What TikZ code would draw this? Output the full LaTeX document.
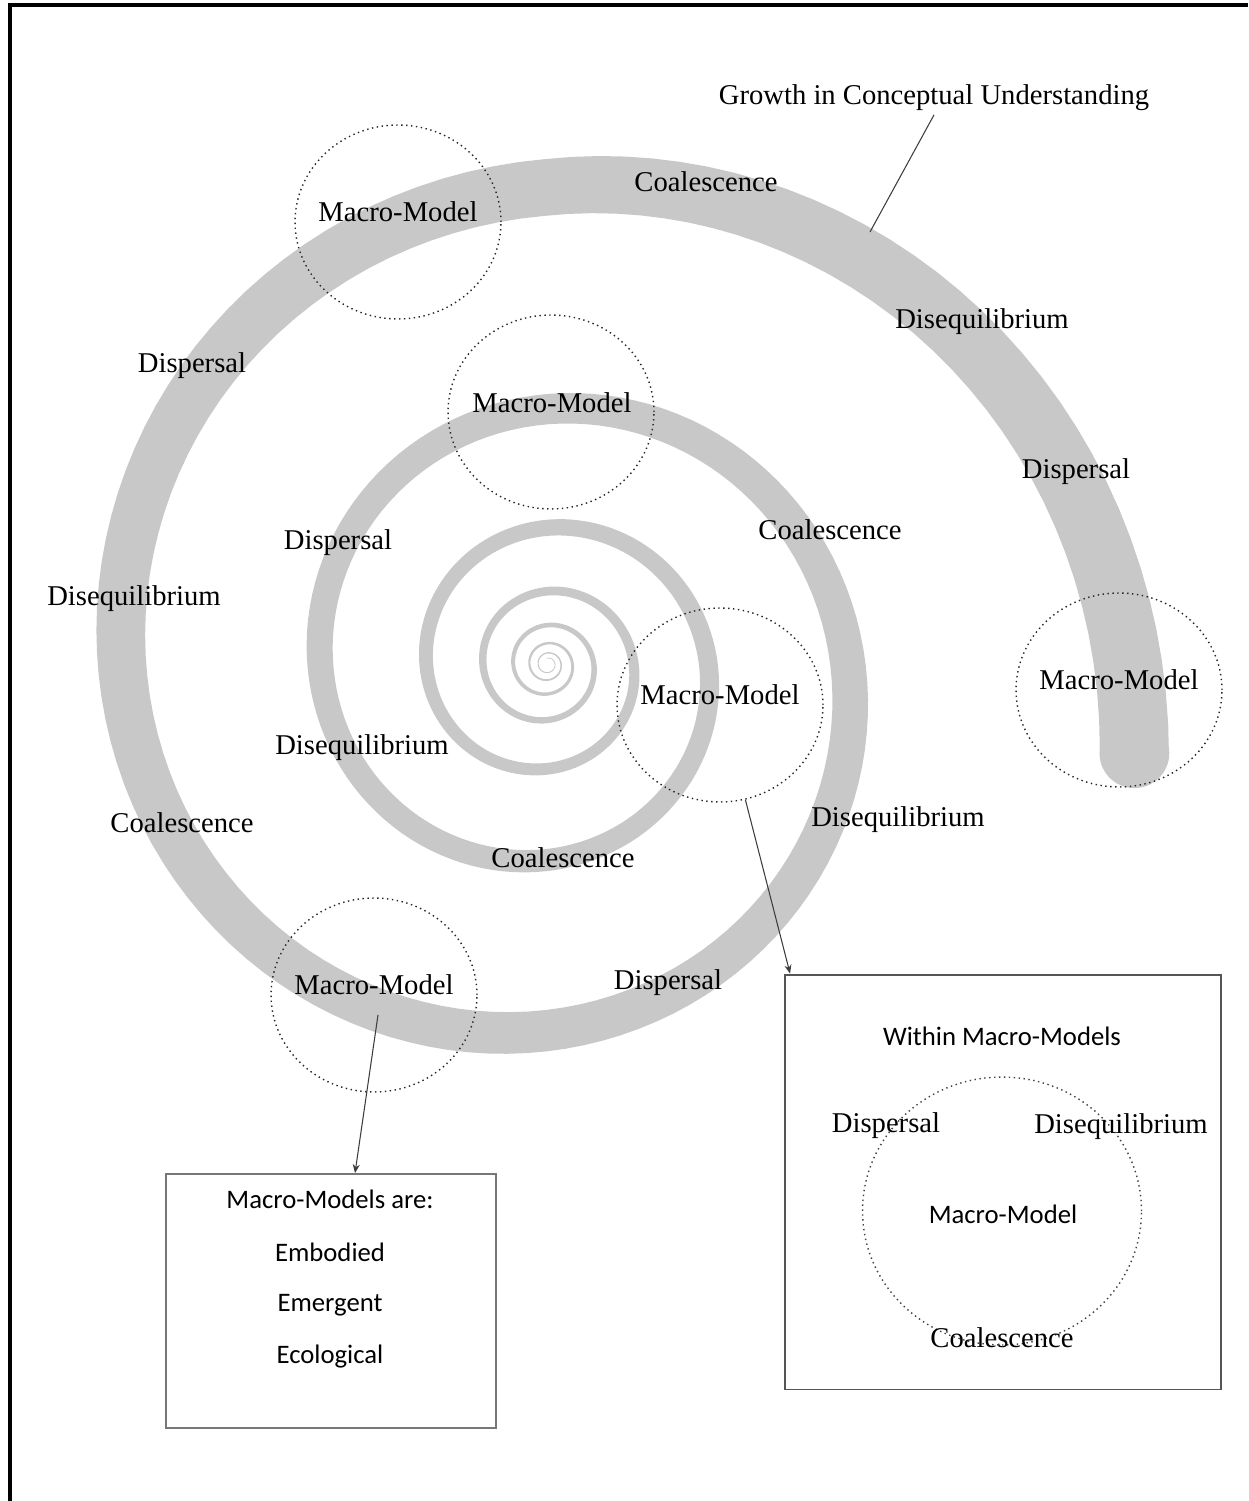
\documentclass[tikz,border=0pt]{standalone}
\usepackage{fontspec}
\setmainfont{Liberation Serif}
\newfontfamily\calibfont{Carlito}
\usetikzlibrary{shapes.geometric, arrows.meta, positioning, calc}
\definecolor{SpiralGray}{RGB}{200,200,200}
\definecolor{BoxGray}{RGB}{85,85,85}
\definecolor{LinkGray}{RGB}{60,60,60}

\begin{document}
\begin{tikzpicture}[
    x=0.02cm, y=-0.02cm,
    declare function={
      sprad(\t)=489*exp(-0.0017406*(\t-90))*(1+0.035*max(0,(90-\t)/90));
      sprx(\t,\k)=548-0.0164*sprad(\t)+\k*sprad(\t)*cos(\t);
      spry(\t,\k)=664+0.0266*sprad(\t)-\k*sprad(\t)*sin(\t);
    },
    spl/.style={font=\fontsize{16.3}{19}\selectfont, inner sep=2pt},
    cal/.style={font=\calibfont\fontsize{15.2}{18}\selectfont, inner sep=2pt},
    mmodel/.style={ellipse, draw=black!85, dotted, line width=0.8pt, minimum width=4.12cm, minimum height=3.88cm},
    bigmodel/.style={ellipse, draw=black!75, dotted, line width=0.8pt, minimum width=5.58cm, minimum height=5.36cm},
    box/.style={rectangle, draw=BoxGray, line width=1.1pt},
    spiral/.style={fill=SpiralGray},
    link/.style={-{Stealth[length=5pt, width=4pt]}, draw=LinkGray, line width=0.6pt}
  ]
    \useasboundingbox (0,0) rectangle (1248,1501);
    \draw[line width=1.8pt] (10,1501) -- (10,5) -- (1248,5);

    % Spiral band
    \fill[spiral] plot[domain=-7:2620, samples=900] ({sprx(\x,1.058)}, {spry(\x,1.058)})
      -- plot[domain=2620:-7, samples=900] ({sprx(\x,0.942)}, {spry(\x,0.942)}) -- cycle;
    \fill[spiral] ({sprx(-7,1)}, {spry(-7,1)}) circle[radius=34.9];

    % Macro-Model circles on the spiral
    \node[mmodel] (c1) at (398,222) {};
    \node[mmodel] (c2) at (551,412) {};
    \node[mmodel] (c3) at (720,705) {};
    \node[mmodel] (c4) at (1119,690) {};
    \node[mmodel] (c5) at (374,995) {};
    \node[spl] at (398,212) {Macro-Model};
    \node[spl] at (552,403) {Macro-Model};
    \node[spl] at (720,695) {Macro-Model};
    \node[spl] at (1119,680) {Macro-Model};
    \node[spl] at (374,985) {Macro-Model};

    % Phase labels
    \node[spl] (growth) at (934,98) {Growth in Conceptual Understanding};
    \node[spl] at (706,182) {Coalescence};
    \node[spl] at (982,322) {Disequilibrium};
    \node[spl] at (192,366) {Dispersal};
    \node[spl] at (1076,472) {Dispersal};
    \node[spl] at (830,530) {Coalescence};
    \node[spl] at (338,543) {Dispersal};
    \node[spl] at (134,599) {Disequilibrium};
    \node[spl] at (362,748) {Disequilibrium};
    \node[spl] at (182,823) {Coalescence};
    \node[spl] at (898,820) {Disequilibrium};
    \node[spl] at (563,858) {Coalescence};
    \node[spl] at (668,983) {Dispersal};

    % Boxes
    \node[box, minimum width=8.72cm, minimum height=8.3cm] (rbox) at (1003,1182) {};
    \node[cal] at (1002,1036) {Within Macro-Models};
    \node[bigmodel] (cin) at (1002,1211) {};
    \node[cal] at (1003,1214) {Macro-Model};
    \node[spl] at (886,1126) {Dispersal};
    \node[spl] at (1121,1127) {Disequilibrium};
    \node[spl] at (1002,1338) {Coalescence};

    \node[box, draw=BoxGray!80, minimum width=6.6cm, minimum height=5.08cm] (lbox) at (331,1301) {};
    \node[cal] at (330,1199) {Macro-Models are:};
    \node[cal] at (330,1252) {Embodied};
    \node[cal] at (330,1305) {Emergent};
    \node[cal] at (330,1357) {Ecological};

    % Connectors
    \coordinate (gtip) at (870,232);
    \coordinate (rtip) at ($(rbox.north west)+(6,0)$);
    \coordinate (lstart) at (378,1015);
    \coordinate (ltip) at ($(lbox.north)+(24,0)$);
    \draw[draw=LinkGray, line width=0.6pt] (growth.south) -- (gtip);
    \draw[link] (c3.-75) -- (rtip);
    \draw[link] (lstart) -- (ltip);
  \end{tikzpicture}
\end{document}
